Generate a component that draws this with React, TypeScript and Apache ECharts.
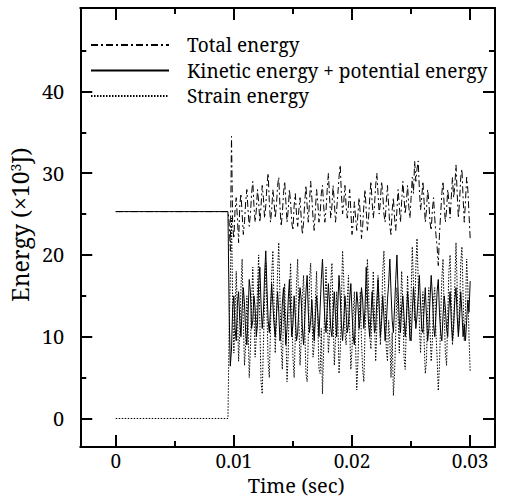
import React, { useEffect, useRef } from "react";
import * as echarts from "echarts";

// ---- Data ----
// Quiet phase before impact
const preTimes = [0, 0.0095];
const preTotal = [25.3, 25.3];
const preKinetic = [25.3, 25.3];
const preStrain = [0, 0];

// Oscillating phase: samples every 0.0001 s from t = 0.0096 s to 0.0300 s
const startTime = 0.0096;
const timeStep = 0.0001;

const totalEnergy = [
  24.0, 20.5, 34.5, 23.5, 22.0, 25.5, 27.0, 24.5, 21.5, 26.0,
  27.5, 25.0, 22.5, 24.0, 26.5, 28.0, 25.5, 23.5, 25.0, 27.5,
  29.0, 26.0, 24.0, 25.5, 28.0, 26.5, 24.0, 26.0, 28.5, 27.0,
  24.5, 26.0, 28.5, 30.0, 26.5, 24.0, 25.5, 28.0, 26.5, 24.5,
  26.0, 28.5, 29.5, 26.0, 23.5, 25.0, 27.5, 29.0, 26.5, 24.0,
  25.5, 28.0, 26.5, 24.0, 23.0, 26.0, 27.5, 25.0, 23.5, 25.5,
  27.0, 24.5, 22.5, 24.0, 26.5, 28.5, 26.0, 24.0, 26.5, 29.0,
  27.0, 24.5, 23.0, 25.5, 28.0, 26.5, 24.0, 25.0, 27.5, 28.5,
  26.0, 24.0, 25.5, 28.0, 30.0, 27.0, 24.5, 26.0, 28.5, 26.5,
  24.0, 25.5, 27.5, 29.5, 31.0, 27.5, 25.0, 26.5, 28.5, 26.0,
  24.5, 26.0, 28.0, 25.5, 22.5, 24.0, 26.5, 24.5, 23.0, 25.0,
  27.0, 25.0, 22.0, 23.5, 26.0, 28.0, 25.5, 23.0, 24.5, 27.0,
  29.0, 26.5, 24.5, 26.0, 28.5, 30.0, 27.5, 25.0, 26.5, 29.0,
  27.5, 25.0, 24.0, 26.5, 28.5, 26.0, 23.5, 22.5, 25.5, 27.0,
  24.5, 23.0, 25.5, 28.0, 26.0, 24.0, 26.5, 29.0, 27.0, 25.0,
  26.5, 28.5, 26.0, 24.5, 27.0, 29.5, 27.5, 31.5, 29.0, 30.5,
  31.5, 28.0, 25.5, 27.0, 29.0, 26.5, 24.0, 25.5, 28.0, 26.5,
  24.0, 23.0, 25.5, 27.0, 24.5, 22.5, 21.0, 18.7, 22.5, 25.0,
  27.5, 29.0, 26.0, 24.0, 25.5, 28.0, 26.5, 24.5, 27.0, 29.5,
  27.0, 28.5, 31.0, 27.5, 24.5, 26.5, 29.5, 30.5, 27.0, 24.0,
  26.5, 29.5, 28.0, 25.0, 22.0,
];

const kineticPotential = [
  13.0, 6.4, 8.5, 13.5, 15.0, 11.0, 9.5, 14.0, 15.5, 12.0,
  10.0, 13.5, 16.0, 14.0, 10.5, 9.0, 12.5, 17.0, 15.5, 11.0,
  12.0, 15.0, 13.5, 10.0, 11.5, 16.5, 18.5, 14.0, 11.0, 13.0,
  17.5, 20.5, 16.0, 12.0, 10.5, 13.5, 16.5, 14.0, 11.5, 10.0,
  12.5, 15.5, 13.0, 9.5, 10.5, 14.0, 16.0, 12.5, 9.0, 11.0,
  14.5, 17.0, 13.5, 10.0, 11.5, 15.0, 12.5, 9.5, 10.5, 13.5,
  16.0, 14.5, 11.0, 9.0, 12.0, 15.5, 17.5, 13.0, 10.5, 12.0,
  14.5, 11.5, 9.5, 12.5, 15.0, 13.0, 10.0, 13.5, 17.0, 19.5,
  15.5, 12.0, 10.5, 13.5, 16.5, 14.0, 11.0, 10.0, 13.0, 15.5,
  12.5, 10.0, 14.0, 17.5, 15.0, 11.5, 9.5, 12.0, 15.0, 13.0,
  10.5, 11.5, 14.5, 16.5, 13.0, 10.0, 9.0, 12.5, 15.5, 14.0,
  11.0, 12.5, 16.0, 14.5, 11.0, 13.5, 18.5, 15.0, 11.5, 10.0,
  12.5, 15.5, 13.0, 10.5, 11.0, 14.5, 17.0, 13.5, 10.0, 12.0,
  15.0, 12.5, 9.5, 11.5, 14.5, 16.5, 19.5, 15.5, 12.0, 10.5,
  13.5, 17.0, 20.0, 15.5, 12.0, 10.5, 13.5, 15.0, 12.5, 10.0,
  12.0, 15.5, 13.5, 10.0, 9.5, 13.0, 16.0, 14.0, 11.0, 12.5,
  15.0, 17.5, 14.0, 11.0, 10.5, 13.5, 16.0, 12.5, 9.5, 11.0,
  14.5, 17.5, 15.0, 11.5, 10.0, 12.5, 15.5, 17.0, 13.0, 10.5,
  9.5, 12.5, 15.0, 13.5, 11.0, 10.0, 13.5, 15.5, 12.0, 9.5,
  11.5, 14.5, 16.0, 12.5, 10.0, 12.0, 15.5, 13.0, 10.0, 11.5,
  9.5, 12.0, 14.5, 13.0, 16.8,
];

const strainEnergy = [
  11.0, 17.0, 24.5, 14.0, 8.0, 12.5, 18.0, 13.0, 7.0, 10.5,
  16.0, 19.5, 12.0, 6.5, 9.0, 15.0, 11.5, 5.0, 8.5, 14.0,
  18.5, 13.0, 7.5, 10.0, 16.0, 20.0, 11.5, 4.5, 3.0, 9.0,
  14.5, 19.0, 13.0, 7.0, 5.0, 11.0, 17.5, 20.5, 14.0, 8.0,
  12.0, 18.0, 21.5, 15.0, 9.0, 6.0, 12.5, 16.5, 10.5, 4.5,
  8.0, 15.0, 19.0, 13.5, 7.5, 5.0, 10.0, 16.5, 19.5, 12.0,
  6.5, 9.5, 15.0, 17.5, 11.0, 5.5, 4.5, 10.0, 17.0, 19.0,
  13.5, 7.5, 9.0, 14.5, 18.0, 12.0, 6.0, 5.5, 11.0, 3.0,
  8.5, 14.0, 18.5, 13.0, 8.0, 10.5, 16.5, 19.0, 12.5, 6.5,
  9.5, 15.5, 12.0, 5.5, 8.0, 14.0, 20.5, 17.0, 10.5, 9.0,
  14.5, 17.5, 11.0, 6.0, 8.5, 13.0, 15.5, 9.0, 3.5, 7.0,
  12.0, 15.5, 9.5, 6.0, 4.5, 10.5, 14.0, 19.5, 16.0, 10.0,
  8.5, 13.5, 18.0, 12.5, 7.0, 11.0, 17.5, 14.0, 9.0, 12.5,
  18.0, 20.5, 14.5, 8.5, 7.0, 12.0, 9.5, 5.0, 10.5, 2.8,
  5.5, 10.5, 16.0, 12.5, 8.0, 13.0, 18.0, 14.0, 7.5, 6.0,
  11.5, 17.5, 13.0, 9.5, 15.0, 21.0, 16.5, 12.0, 18.5, 22.0,
  17.0, 11.5, 8.0, 12.5, 15.5, 9.5, 5.5, 7.0, 13.0, 16.0,
  11.0, 7.0, 9.5, 14.5, 16.0, 10.5, 7.5, 3.4, 6.5, 12.0,
  17.0, 19.5, 13.0, 8.0, 6.5, 12.5, 18.0, 20.0, 14.5, 9.0,
  11.0, 16.5, 21.5, 16.0, 10.5, 13.0, 19.0, 21.0, 15.0, 9.5,
  13.0, 19.5, 16.0, 10.0, 5.7,
];

const xMajorTicks = [0, 0.01, 0.02, 0.03];
const xMinorTicks = [0.005, 0.015, 0.025];
const yMajorTicks = [0, 10, 20, 30, 40];
const yMinorTicks = [5, 15, 25, 35, 45];

const seriesNames = ["Total energy", "Kinetic energy + potential energy", "Strain energy"];

const FONT = "Noto Serif";

function buildPairs(pre: number[], values: number[]): [number, number][] {
  const out: [number, number][] = preTimes.map((t, i) => [t, pre[i]] as [number, number]);
  values.forEach((v, i) => {
    out.push([+(startTime + i * timeStep).toFixed(4), v]);
  });
  return out;
}

export default function App() {
  const ref = useRef<HTMLDivElement>(null);

  useEffect(() => {
    document.body.style.margin = "0";
    if (!ref.current) return;
    const chart = echarts.init(ref.current, undefined, { renderer: "svg" });

    const axisLineStyle = { color: "#000", width: 2 };
    const xRange = { min: -0.003, max: 0.0321 };
    const yRange = { min: -3.5, max: 50.2 };

    const makeX = (position: "top" | "bottom", ticks: number[], len: number, main: boolean) => ({
      type: "value",
      position,
      ...xRange,
      axisLine: { show: main, onZero: false, lineStyle: axisLineStyle },
      axisTick: { show: true, inside: true, length: len, customValues: ticks, lineStyle: { color: "#000", width: 2 } },
      axisLabel: { show: false },
      splitLine: { show: false },
    });
    const makeY = (position: "left" | "right", ticks: number[], len: number, main: boolean) => ({
      type: "value",
      position,
      ...yRange,
      axisLine: { show: main, onZero: false, lineStyle: axisLineStyle },
      axisTick: { show: true, inside: true, length: len, customValues: ticks, lineStyle: { color: "#000", width: 2 } },
      axisLabel: { show: false },
      splitLine: { show: false },
    });

    const xMain: any = makeX("bottom", xMajorTicks, 12, true);
    xMain.axisLabel = {
      show: true,
      customValues: xMajorTicks,
      fontSize: 19,
      fontFamily: FONT,
      color: "#000",
      margin: 4,
      formatter: (v: number) => String(v),
    };
    xMain.name = "Time (sec)";
    xMain.nameLocation = "middle";
    xMain.nameGap = 27;
    xMain.nameTextStyle = { fontSize: 20, fontFamily: FONT, color: "#000", padding: [0, 0, 0, 17] };

    const yMain: any = makeY("left", yMajorTicks, 12, true);
    yMain.axisLabel = {
      show: true,
      customValues: yMajorTicks,
      fontSize: 20,
      fontFamily: FONT,
      color: "#000",
      margin: 16,
    };
    yMain.name = "{a|Energy (×10}{b|3}{a|J)}";
    yMain.nameLocation = "middle";
    yMain.nameGap = 31;
    yMain.nameRotate = 90;
    yMain.nameTextStyle = {
      fontSize: 23,
      fontFamily: FONT,
      color: "#000",
      padding: [0, 0, 0, 6],
      rich: {
        a: { fontSize: 23, fontFamily: FONT, color: "#000", lineHeight: 23 },
        b: { fontSize: 14, fontFamily: FONT, color: "#000", verticalAlign: "top", lineHeight: 14 },
      },
    };

    const lineTypes: any[] = [[7, 3, 2, 3], "solid", [1.5, 1.5]];
    const dataSets = [
      buildPairs(preTotal, totalEnergy),
      buildPairs(preKinetic, kineticPotential),
      buildPairs(preStrain, strainEnergy),
    ];

    chart.setOption({
      animation: false,
      backgroundColor: "#fff",
      grid: { left: 67, right: 11, top: 8, bottom: 51 },
      legend: {
        orient: "vertical",
        left: 90,
        top: 34,
        padding: 0,
        itemWidth: 78,
        itemHeight: 14,
        itemGap: 3.5,
        data: seriesNames,
        itemStyle: { opacity: 0 },
        textStyle: { fontSize: 19, fontFamily: FONT, color: "#000", padding: [0, 0, 0, 13], lineHeight: 22 },
      },
      xAxis: [
        xMain,
        makeX("bottom", xMinorTicks, 6, false),
        makeX("top", xMajorTicks, 12, true),
        makeX("top", xMinorTicks, 6, false),
      ],
      yAxis: [
        yMain,
        makeY("left", yMinorTicks, 6, false),
        makeY("right", yMajorTicks, 12, true),
        makeY("right", yMinorTicks, 6, false),
      ],
      series: seriesNames.map((name, i) => ({
        name,
        type: "line",
        xAxisIndex: 0,
        yAxisIndex: 0,
        data: dataSets[i],
        symbol: "none",
        lineStyle: { color: "#000", width: 1, type: lineTypes[i] },
        itemStyle: { color: "#000" },
      })),
    });

    return () => chart.dispose();
  }, []);

  return (
    <div
      ref={ref}
      style={{ position: "fixed", left: 0, top: 0, width: 506, height: 500, background: "#fff" }}
    />
  );
}
